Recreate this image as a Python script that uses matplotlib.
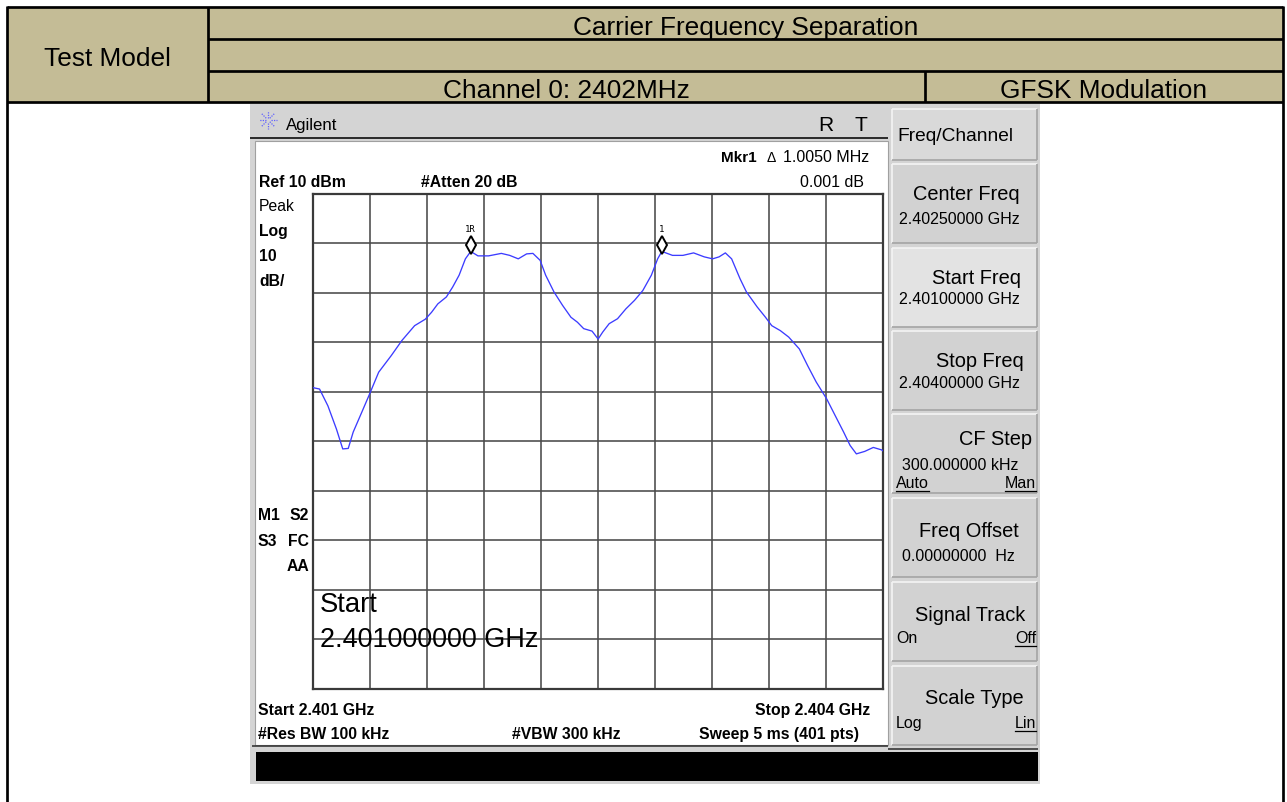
import numpy as np
import matplotlib
matplotlib.use('Agg')
import matplotlib.pyplot as plt
from matplotlib.patches import Rectangle
from matplotlib.lines import Line2D
from matplotlib.transforms import offset_copy

# ---------------- data ----------------
freq_mhz = [2401.000, 2401.037, 2401.081, 2401.126, 2401.159, 2401.188, 2401.214, 2401.259,
            2401.297, 2401.348, 2401.415, 2401.470, 2401.537, 2401.593, 2401.626, 2401.659,
            2401.704, 2401.737, 2401.771, 2401.804, 2401.832, 2401.870, 2401.926, 2401.993,
            2402.037, 2402.082, 2402.126, 2402.159, 2402.197, 2402.226, 2402.270, 2402.315,
            2402.359, 2402.393, 2402.426, 2402.470, 2402.502, 2402.526, 2402.560, 2402.604,
            2402.648, 2402.693, 2402.737, 2402.782, 2402.815, 2402.837, 2402.893, 2402.948,
            2403.004, 2403.060, 2403.104, 2403.138, 2403.171, 2403.204, 2403.248, 2403.282,
            2403.338, 2403.382, 2403.415, 2403.460, 2403.504, 2403.560, 2403.604, 2403.649,
            2403.704, 2403.749, 2403.793, 2403.827, 2403.860, 2403.904, 2403.949, 2403.993,
            2404.000]
level_dbm = [-29.2, -29.5, -32.9, -37.6, -41.6, -41.5, -38.2, -34.2,
             -30.8, -26.1, -22.7, -19.7, -16.7, -15.4, -14.0, -12.3,
             -10.9, -8.9, -6.5, -3.2, -1.7, -2.6, -2.6, -2.1,
             -2.5, -3.2, -2.2, -2.1, -3.5, -6.5, -9.9, -12.6,
             -15.0, -16.0, -17.3, -17.8, -19.4, -18.0, -16.3, -15.3,
             -13.3, -11.6, -9.6, -6.5, -3.2, -1.7, -2.5, -2.5,
             -2.0, -2.8, -3.2, -2.8, -2.0, -3.2, -7.2, -9.9,
             -12.9, -15.0, -16.7, -17.7, -19.0, -21.4, -24.8, -28.1,
             -31.5, -34.9, -38.2, -40.9, -42.6, -42.1, -41.3, -41.8,
             -42.0]
marker_freq_mhz = [2401.832, 2402.837]
marker_level_dbm = [-1.7, -1.7]
marker_labels = ['1R', '1']
x_grid_mhz = [2401.0, 2401.3, 2401.6, 2401.9, 2402.2, 2402.5, 2402.8, 2403.1, 2403.4, 2403.7, 2404.0]
y_grid_dbm = [10, 0, -10, -20, -30, -40, -50, -60, -70, -80, -90]

header_title = 'Carrier Frequency Separation'
header_left = 'Test Model'
header_channel = 'Channel 0: 2402MHz'
header_mod = 'GFSK Modulation'

softkey_titles = ['Center Freq', 'Start Freq', 'Stop Freq', 'CF Step',
                  'Freq Offset', 'Signal Track', 'Scale Type']
softkey_values = ['2.40250000 GHz', '2.40100000 GHz', '2.40400000 GHz', '300.000000 kHz',
                  '0.00000000  Hz', '', '']
softkey_left_opt = ['', '', '', 'Auto', '', 'On', 'Log']
softkey_right_opt = ['', '', '', 'Man', '', 'Off', 'Lin']

# ---------------- figure helpers ----------------
W, H = 1287, 803
fig = plt.figure(figsize=(W / 100, H / 100), dpi=100)
fig.patch.set_facecolor('white')
plt.rcParams['font.family'] = ['Liberation Sans', 'DejaVu Sans']
REG = ['Liberation Sans', 'DejaVu Sans']


def fx(x):
    return x / W


def fy(y):
    return 1 - y / H


def rect(x0, y0, x1, y1, fc, ec='none', lw=0, z=1):
    fig.add_artist(Rectangle((fx(x0), fy(y1)), (x1 - x0) / W, (y1 - y0) / H,
                             transform=fig.transFigure, facecolor=fc, edgecolor=ec,
                             linewidth=lw, zorder=z))


def seg(x0, y0, x1, y1, color='black', lw=1.0, z=2, **kw):
    fig.add_artist(Line2D([fx(x0), fx(x1)], [fy(y0), fy(y1)], transform=fig.transFigure,
                          color=color, linewidth=lw, zorder=z, solid_capstyle='butt', **kw))


def txt(x, y, s, px, ha='left', va='baseline', weight='normal', color='black', z=10):
    return fig.text(fx(x), fy(y), s, fontsize=px * 0.72, ha=ha, va=va,
                    fontweight=weight, family=REG, color=color, zorder=z)


# ---------------- document table ----------------
rect(7, 8, 1283, 103, '#C4BC96', z=1)
BL = 1.95
seg(7, 8, 1283, 8, lw=BL)
seg(208, 40, 1283, 40, lw=BL)
seg(208, 71.5, 1283, 71.5, lw=BL)
seg(7, 103, 1283, 103, lw=BL)
seg(7, 7, 7, 803, lw=BL)
seg(1283, 7, 1283, 803, lw=BL)
seg(208, 8, 208, 103, lw=BL)
seg(925, 71.5, 925, 103, lw=BL)

txt(107.5, 66, header_left, 26.3, ha='center')
txt(745.5, 34.5, header_title, 26.3, ha='center')
txt(566.5, 98, header_channel, 26.3, ha='center')
txt(1104, 98, header_mod, 26.3, ha='center')

# ---------------- instrument screen frame ----------------
rect(250, 104.5, 1040, 785, '#d4d4d4', z=1.5)
seg(250, 139, 888, 139, color='#2a2a2a', lw=1.4, z=1.7)
rect(255, 141.5, 888, 746, 'white', ec='#a0a0a0', lw=0.8, z=1.6)
seg(252, 747, 888, 747, color='#2a2a2a', lw=1.1, z=1.7)
seg(888, 750, 1038, 750, color='#2a2a2a', lw=1.1, z=1.7)
rect(256, 753, 1038, 782, 'black', z=1.6)

# Agilent logo starburst
cx, cy = 268, 121
for ang in np.arange(0, 360, 45):
    a = np.deg2rad(ang)
    seg(cx + 2.5 * np.cos(a), cy + 2.5 * np.sin(a), cx + 9 * np.cos(a), cy + 9 * np.sin(a),
        color='#6060ff', lw=0.9, z=3, linestyle=(0, (1, 1)))
txt(286, 130, 'Agilent', 16.8)
txt(826, 131, 'R', 21, ha='center')
txt(861, 131, 'T', 21, ha='center')

# annotation texts of analyzer
txt(721, 162, 'Mkr1', 15.3, weight='bold')
txt(767, 162, 'Δ', 14)
txt(869, 162, '1.0050 MHz', 16, ha='right')
txt(259, 187, 'Ref 10 dBm', 15.8, weight='bold')
txt(421, 187, '#Atten 20 dB', 15.8, weight='bold')
txt(864, 187, '0.001 dB', 16, ha='right')
txt(259, 211, 'Peak', 15.8)
txt(259, 236, 'Log', 15.8, weight='bold')
txt(259, 261, '10', 15.8, weight='bold')
txt(259, 286, 'dB/', 15.8, weight='bold')
txt(258, 520, 'M1', 15.8, weight='bold')
txt(309, 520, 'S2', 15.8, weight='bold', ha='right')
txt(258, 546, 'S3', 15.8, weight='bold')
txt(309, 546, 'FC', 15.8, weight='bold', ha='right')
txt(309, 571, 'AA', 15.8, weight='bold', ha='right')
txt(320, 612, 'Start', 27.5, z=12)
txt(320, 647, '2.401000000 GHz', 27, z=12)
txt(258, 715, 'Start 2.401 GHz', 15.8, weight='bold')
txt(870, 715, 'Stop 2.404 GHz', 15.8, weight='bold', ha='right')
txt(258, 739, '#Res BW 100 kHz', 15.8, weight='bold')
txt(512, 739, '#VBW 300 kHz', 15.8, weight='bold')
txt(859, 739, 'Sweep 5 ms (401 pts)', 15.8, weight='bold', ha='right')

# ---------------- softkeys ----------------
def button(x0, y0, x1, y1, fc):
    rect(x0, y0, x1, y1, fc, z=2)
    seg(x0, y0, x1, y0, color='#f4f4f4', lw=1.2, z=2.1)
    seg(x0, y0, x0, y1, color='#f4f4f4', lw=1.2, z=2.1)
    seg(x0, y1, x1, y1, color='#a4a4a4', lw=1.2, z=2.1)
    seg(x1, y0, x1, y1, color='#a4a4a4', lw=1.2, z=2.1)


button(892, 110, 1037, 161, '#d9d9d9')
txt(897, 141, 'Freq/Channel', 19.2)

btn_tops = [165, 248.5, 332, 415, 499, 583, 667]
title_right = [1020, 1021, 1024, 1032, 1019, 1025, 1024]
title_dy = [35, 35, 35, 30, 38, 38, 37]
value_dy = [59, 56, 56, 55, 62, 0, 0]
opt_dy = [0, 0, 0, 73, 0, 60, 61]
underline = []
for i, top in enumerate(btn_tops):
    fc = '#e3e3e3' if i == 1 else '#d2d2d2'
    button(892, top, 1037, top + 79, fc)
    txt(title_right[i], top + title_dy[i], softkey_titles[i], 20, ha='right')
    if softkey_values[i]:
        txt(899 if i < 3 else 902, top + value_dy[i], softkey_values[i], 16)
    if softkey_left_opt[i]:
        t1 = txt(896, top + opt_dy[i], softkey_left_opt[i], 16)
        t2 = txt(1036, top + opt_dy[i], softkey_right_opt[i], 16, ha='right')
        if i == 3:
            underline.append(t1)
        underline.append(t2)

# ---------------- spectrum axes ----------------
ax = fig.add_axes([fx(312.5), fy(689.5), (883 - 312.5) / W, (689.5 - 194.5) / H])
ax.set_zorder(5)
ax.set_facecolor('white')
ax.set_xlim(x_grid_mhz[0], x_grid_mhz[-1])
ax.set_ylim(y_grid_dbm[-1], y_grid_dbm[0])
ax.set_xticks(x_grid_mhz)
ax.set_yticks(y_grid_dbm)
ax.tick_params(length=0, labelbottom=False, labelleft=False)
ax.grid(True, color='#4a4a4a', linewidth=1.15)
for sp in ax.spines.values():
    sp.set_color('#3a3a3a')
    sp.set_linewidth(1.6)
ax.plot(freq_mhz, level_dbm, color='#3c3cff', linewidth=0.95, zorder=3)

mk_tr = offset_copy(ax.transData, fig=fig, x=0, y=6, units='dots')
ax.plot(marker_freq_mhz, marker_level_dbm, linestyle='none', marker='d', markersize=9,
        markerfacecolor='white', markeredgecolor='black', markeredgewidth=1.4,
        transform=mk_tr, zorder=4, clip_on=False)
for f, lv, lab in zip(marker_freq_mhz, marker_level_dbm, marker_labels):
    ax.annotate(lab, xy=(f, lv), xytext=(0, 23), textcoords='offset pixels',
                ha='center', va='center', fontsize=6.5, family='DejaVu Sans Mono',
                zorder=4)

# underline the active softkey options
fig.canvas.draw()
r = fig.canvas.get_renderer()
for t in underline:
    bb = t.get_window_extent(r)
    fig.add_artist(Line2D([bb.x0 / W, bb.x1 / W], [(bb.y0 - 1.0) / H, (bb.y0 - 1.0) / H],
                          transform=fig.transFigure, color='black', linewidth=0.9, zorder=11))

fig.savefig('out.png', dpi=100)
